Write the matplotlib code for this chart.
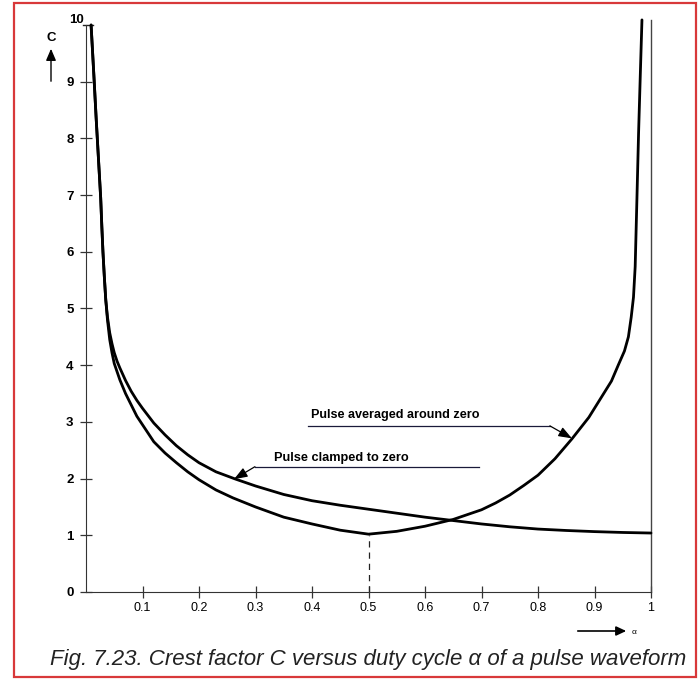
import matplotlib
matplotlib.use("Agg")
import matplotlib.pyplot as plt
from matplotlib.patches import Rectangle, FancyArrowPatch

# ---- data ----
alpha_clamped = [0.009, 0.014, 0.018, 0.022, 0.026, 0.028, 0.030, 0.0325, 0.035, 0.038,
                 0.042, 0.046, 0.05, 0.055, 0.06, 0.07, 0.08, 0.09, 0.10, 0.12,
                 0.14, 0.16, 0.18, 0.20, 0.23, 0.265, 0.30, 0.35, 0.40, 0.45,
                 0.50, 0.55, 0.60, 0.65, 0.70, 0.75, 0.80, 0.85, 0.90, 0.95, 1.0]
c_clamped = [10.0, 9.1, 8.35, 7.65, 6.95, 6.45, 6.0, 5.55, 5.15, 4.85,
             4.57, 4.38, 4.22, 4.07, 3.95, 3.73, 3.54, 3.38, 3.24, 2.98,
             2.77, 2.58, 2.42, 2.28, 2.12, 1.99, 1.87, 1.72, 1.61, 1.53,
             1.46, 1.39, 1.32, 1.26, 1.2, 1.15, 1.11, 1.085, 1.065, 1.05, 1.04]

alpha_avg = [0.009, 0.014, 0.018, 0.022, 0.026, 0.028, 0.030, 0.0325, 0.035, 0.038,
             0.042, 0.046, 0.05, 0.06, 0.07, 0.08, 0.09, 0.10, 0.12, 0.14,
             0.16, 0.18, 0.20, 0.23, 0.26, 0.30, 0.35, 0.40, 0.45, 0.50,
             0.55, 0.60, 0.65, 0.70, 0.725, 0.75, 0.775, 0.80, 0.83, 0.86,
             0.89, 0.91, 0.93, 0.942, 0.953, 0.96, 0.965, 0.969, 0.972, 0.975,
             0.978, 0.981, 0.984]
c_avg = [10.0, 9.1, 8.35, 7.65, 6.95, 6.45, 6.0, 5.55, 5.15, 4.8,
         4.45, 4.22, 4.03, 3.74, 3.5, 3.3, 3.1, 2.95, 2.65, 2.45,
         2.28, 2.12, 1.98, 1.8, 1.66, 1.5, 1.32, 1.2, 1.09, 1.02,
         1.07, 1.16, 1.28, 1.45, 1.57, 1.71, 1.88, 2.06, 2.35, 2.7,
         3.08, 3.4, 3.72, 4.0, 4.25, 4.5, 4.85, 5.2, 5.74, 6.9,
         8.09, 9.1, 10.09]

x_ticks = [0.1, 0.2, 0.3, 0.4, 0.5, 0.6, 0.7, 0.8, 0.9, 1]
x_tick_labels = ["0.1", "0.2", "0.3", "0.4", "0.5", "0.6", "0.7", "0.8", "0.9", "1"]
y_ticks = [0, 1, 2, 3, 4, 5, 6, 7, 8, 9]
y_tick_labels = ["0", "1", "2", "3", "4", "5", "6", "7", "8", "9"]

label_avg = "Pulse averaged around zero"
label_clamped = "Pulse clamped to zero"
caption = "Fig. 7.23. Crest factor C versus duty cycle \u03b1 of a pulse waveform"

# ---- figure ----
W, H = 698, 681
fig = plt.figure(figsize=(W / 100, H / 100), dpi=100)
plt.rcParams['font.family'] = ['Liberation Sans', 'DejaVu Sans']

# red frame
fig.patches.append(Rectangle((14 / W, 1 - 677 / H), (696 - 14) / W, (677 - 3) / H,
                             transform=fig.transFigure, fill=False,
                             edgecolor='#d8383a', linewidth=1.6))

ymax = 10.3
px_per_unit = 56.7
y0 = 592
ytop = y0 - ymax * px_per_unit
ax = fig.add_axes([86 / W, 1 - y0 / H, (651 - 86) / W, (y0 - ytop) / H])
ax.set_xlim(0, 1)
ax.set_ylim(0, ymax)
ax.patch.set_alpha(0)

for s in ['top', 'right']:
    ax.spines[s].set_visible(False)
ax.spines['left'].set_bounds(0, 10)
ax.spines['bottom'].set_bounds(0, 1)
for s in ['left', 'bottom']:
    ax.spines[s].set_color('#333333')
    ax.spines[s].set_linewidth(0.8)

ax.set_xticks(x_ticks)
ax.set_xticklabels(x_tick_labels)
ax.set_yticks(y_ticks)
ax.set_yticklabels(y_tick_labels)
ax.tick_params(axis='both', direction='inout', length=8, width=0.9, color='#333333')
ax.tick_params(axis='y', pad=5, labelsize=9.5)
ax.tick_params(axis='x', pad=3, labelsize=9)
for lab in ax.get_yticklabels():
    lab.set_fontweight('bold')

# top cap of the y axis and "10" label
ax.plot([-0.005, 0.013], [10, 10], color='#222222', lw=1.0, clip_on=False)
ax.text(-0.017, 9.98, "10", ha='center', va='bottom', fontsize=9.5,
        fontweight='bold', clip_on=False)

# right boundary line at alpha = 1
ax.plot([1, 1], [0, 10.09], color='#444444', lw=1.0, clip_on=False)

# curves
ax.plot(alpha_avg, c_avg, color='black', lw=2.0, solid_joinstyle='round',
        solid_capstyle='round', clip_on=False)
ax.plot(alpha_clamped, c_clamped, color='black', lw=2.0, solid_joinstyle='round',
        solid_capstyle='round', clip_on=False)

# dashed line at minimum
ax.plot([0.5, 0.5], [0, 1.0], color='#222222', lw=0.9, linestyle=(0, (5, 4)))

# annotations
ax.text(0.399, 3.12, label_avg, fontsize=9.1, fontweight='bold', va='center', ha='left')
ax.plot([0.393, 0.821], [2.93, 2.93], color='#1a1a3a', lw=0.9)
ax.annotate("", xy=(0.860, 2.71), xytext=(0.821, 2.93),
            arrowprops=dict(arrowstyle='-|>,head_length=0.8,head_width=0.3',
                            color='black', lw=0.9, shrinkA=0, shrinkB=0))

ax.text(0.333, 2.36, label_clamped, fontsize=9.2, fontweight='bold', va='center', ha='left')
ax.plot([0.299, 0.696], [2.21, 2.21], color='#1a1a3a', lw=0.9)
ax.annotate("", xy=(0.262, 1.99), xytext=(0.299, 2.21),
            arrowprops=dict(arrowstyle='-|>,head_length=0.8,head_width=0.3',
                            color='black', lw=0.9, shrinkA=0, shrinkB=0))

# axis symbols with arrows
fig.text(51 / W, 1 - 38 / H, "C", ha='center', va='center', fontsize=9.5, fontweight='bold')
fig.patches.append(FancyArrowPatch(
    (51 / W, 1 - 84 / H), (51 / W, 1 - 46 / H), transform=fig.transFigure,
    arrowstyle='-|>,head_length=7,head_width=3', color='black', lw=1.0))
fig.patches.append(FancyArrowPatch(
    (575 / W, 1 - 631 / H), (629 / W, 1 - 631 / H), transform=fig.transFigure,
    arrowstyle='-|>,head_length=6,head_width=2.8', color='black', lw=1.2))
fig.text(634 / W, 1 - 632 / H, "\u03b1", ha='center', va='center', fontsize=6)

# caption
fig.text(368 / W, 1 - 659 / H, caption, ha='center', va='center',
         fontsize=16, style='italic', color='#222222')

fig.savefig("out.png", dpi=100)
